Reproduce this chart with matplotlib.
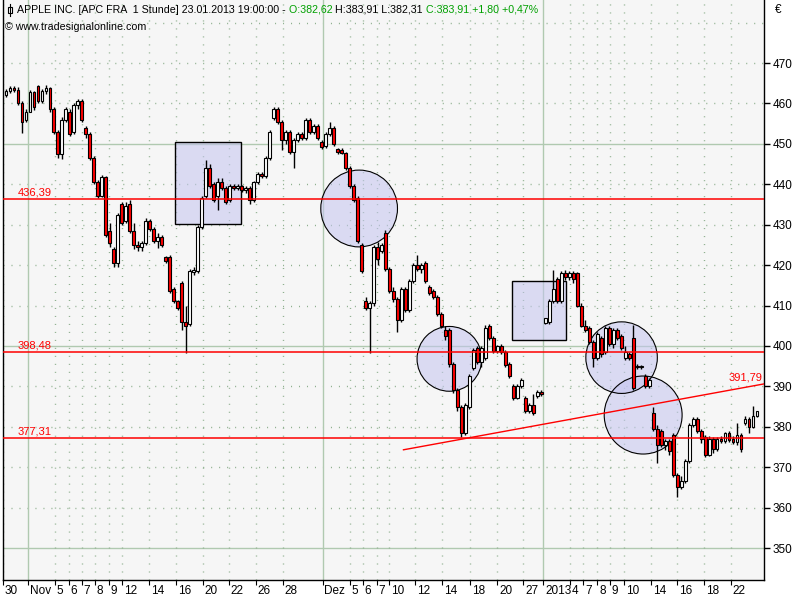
import matplotlib
matplotlib.use("Agg")
import matplotlib.pyplot as plt
import numpy as np
from matplotlib.patches import Rectangle, Ellipse
from matplotlib.lines import Line2D

plt.rcParams["font.family"] = ["Liberation Sans", "DejaVu Sans"]

# ---------------------------------------------------------------------------
# APC FRA, 1-hour candles
# ---------------------------------------------------------------------------
opens = [
    462.0, 463.0, 463.8, 463.2, 460.0, 456.0, 458.0, 462.8, 464.3, 460.5,
    463.0, 463.8, 458.5, 453.0, 447.5, 456.0, 458.0, 453.0, 459.5, 460.5,
    454.0, 452.5, 446.5, 440.5, 437.2, 441.8, 428.5, 424.0, 420.5, 435.0,
    431.0, 435.0, 428.5, 425.0, 424.5, 425.5, 431.0, 429.0, 426.0, 427.0,
    422.0, 422.0, 414.0, 411.0, 415.5, 406.0, 405.5, 418.2, 418.5, 429.5,
    437.0, 444.0, 440.0, 437.0, 440.5, 439.0, 436.0, 439.5, 439.0, 439.5,
    438.5, 439.0, 436.0, 440.5, 442.5, 442.0, 446.5, 456.5, 458.5, 455.5,
    451.0, 453.0, 448.0, 451.0, 452.5, 451.5, 456.0, 453.0, 454.5, 450.5,
    449.5, 452.5, 454.0, 448.8, 448.5, 447.8, 444.0, 439.5, 436.5, 425.0,
    411.0, 409.5, 410.5, 424.5, 423.5, 428.0, 419.0, 413.5, 411.5, 406.5,
    414.0, 409.0, 416.0, 420.0, 419.0, 420.5, 414.5, 413.5, 412.0, 408.0,
    404.0, 404.0, 395.5, 389.0, 385.0, 378.5, 385.0, 394.5, 399.5, 396.0,
    397.0, 405.0, 402.0, 398.8, 400.0, 398.5, 395.5, 390.0, 387.0, 390.0,
    387.0, 384.0, 385.5, 387.5, 388.5, 405.7, 406.0, 411.0, 416.5, 411.0,
    418.0, 417.0, 418.0, 418.0, 410.0, 405.0, 404.5, 401.0, 397.0, 402.0,
    398.5, 404.5, 400.5, 404.0, 402.5, 397.0, 398.0, 402.0, 395.0, 394.8,
    392.5, 390.0, 383.5, 379.5, 379.0, 375.5, 376.5, 378.0, 368.0, 365.0,
    366.5, 371.5, 380.5, 382.0, 379.0, 377.5, 373.0, 377.0, 374.5, 377.0,
    376.5, 378.5, 377.0, 376.3, 378.0, 381.0, 382.0, 380.0, 382.62,
]
highs = [
    463.5, 464.3, 464.3, 464.0, 460.5, 458.5, 463.3, 463.0, 464.6, 463.5,
    464.6, 464.0, 459.0, 453.5, 456.6, 459.0, 458.5, 460.0, 461.0, 461.0,
    454.5, 453.0, 447.0, 441.0, 442.3, 442.0, 430.5, 424.5, 433.0, 435.5,
    435.5, 436.0, 430.5, 426.0, 426.0, 431.6, 431.5, 429.5, 428.0, 427.5,
    422.3, 422.5, 414.6, 411.4, 416.0, 410.0, 419.0, 419.5, 430.0, 437.0,
    446.0, 445.0, 440.5, 441.5, 441.5, 439.5, 440.0, 440.0, 440.0, 439.8,
    439.5, 439.5, 440.8, 443.0, 443.0, 447.0, 453.5, 459.2, 459.0, 456.0,
    453.5, 453.5, 451.5, 453.0, 453.0, 456.5, 456.5, 455.0, 455.0, 451.0,
    453.0, 455.5, 454.5, 449.0, 449.0, 448.0, 444.5, 440.0, 437.0, 425.5,
    412.0, 411.0, 425.0, 425.8, 425.5, 428.7, 419.5, 414.5, 412.0, 414.5,
    414.5, 416.5, 420.5, 422.5, 420.5, 421.0, 415.0, 414.0, 412.5, 408.5,
    405.0, 404.5, 396.0, 389.5, 385.5, 386.0, 393.0, 399.5, 400.0, 400.0,
    405.2, 405.5, 402.5, 400.3, 400.5, 399.0, 396.0, 390.5, 390.5, 392.0,
    387.5, 386.0, 388.0, 389.0, 389.0, 407.0, 411.5, 418.8, 417.0, 418.5,
    418.8, 418.5, 418.5, 418.3, 410.5, 406.5, 405.0, 401.5, 403.5, 402.5,
    405.0, 405.0, 404.5, 404.5, 403.0, 400.0, 398.5, 405.2, 395.5, 395.3,
    393.0, 392.0, 384.8, 380.5, 379.5, 377.0, 377.0, 378.5, 368.5, 367.8,
    372.0, 381.0, 382.5, 382.4, 379.5, 378.0, 377.7, 377.5, 377.5, 377.6,
    378.7, 379.0, 377.8, 381.0, 378.5, 382.6, 382.3, 385.1, 383.91,
]
lows = [
    461.5, 462.5, 462.8, 459.5, 452.7, 455.5, 457.8, 458.4, 460.0, 460.0,
    462.3, 458.0, 452.5, 446.5, 446.3, 455.5, 452.0, 452.5, 458.5, 455.5,
    451.5, 446.0, 440.0, 436.6, 436.8, 427.0, 424.5, 419.5, 419.5, 430.0,
    430.5, 428.0, 424.0, 423.5, 423.5, 425.0, 428.5, 425.5, 424.2, 424.5,
    420.5, 413.0, 410.5, 408.9, 404.0, 398.3, 405.0, 417.5, 418.0, 429.0,
    436.5, 439.0, 435.5, 433.6, 438.5, 435.0, 435.5, 438.5, 438.5, 438.0,
    437.8, 435.0, 435.5, 440.0, 441.5, 441.5, 446.0, 456.0, 455.0, 448.5,
    450.0, 447.5, 444.0, 450.5, 451.0, 451.0, 452.5, 452.5, 451.0, 448.8,
    449.0, 452.0, 449.5, 447.5, 447.5, 443.5, 439.0, 435.5, 425.5, 418.0,
    408.9, 398.3, 410.0, 420.0, 423.0, 418.5, 413.0, 410.8, 403.4, 406.0,
    408.5, 408.5, 415.5, 418.5, 418.0, 415.5, 412.5, 411.5, 407.5, 404.5,
    401.5, 394.8, 388.4, 384.0, 377.5, 378.0, 384.5, 394.0, 395.5, 394.8,
    396.5, 401.5, 398.3, 398.3, 398.0, 394.8, 392.0, 386.5, 386.8, 389.5,
    383.3, 383.5, 382.8, 387.0, 387.5, 405.5, 405.5, 410.5, 410.5, 410.5,
    416.3, 416.3, 415.6, 409.6, 404.7, 403.4, 400.5, 394.8, 396.5, 397.3,
    398.0, 400.0, 399.5, 401.5, 399.0, 396.5, 396.5, 389.1, 394.3, 394.3,
    389.5, 389.5, 379.0, 371.0, 375.0, 374.3, 373.0, 367.5, 362.6, 364.5,
    366.0, 371.0, 380.0, 378.5, 376.0, 372.4, 372.8, 373.5, 374.0, 376.0,
    376.0, 376.2, 375.8, 375.5, 373.8, 380.5, 378.5, 379.8, 382.31,
]
closes = [
    463.0, 463.8, 463.2, 460.0, 455.5, 458.0, 462.8, 459.0, 460.5, 463.0,
    463.8, 458.5, 453.0, 447.5, 456.0, 458.5, 452.5, 459.5, 460.5, 456.0,
    452.5, 446.5, 440.5, 437.2, 441.8, 427.5, 425.5, 420.5, 432.5, 430.5,
    434.5, 428.5, 425.0, 424.5, 425.5, 431.0, 429.0, 426.0, 427.0, 425.0,
    421.0, 413.5, 411.0, 409.5, 406.0, 405.0, 418.5, 418.8, 429.5, 436.5,
    444.0, 439.5, 436.0, 440.5, 439.0, 435.5, 439.5, 439.0, 439.5, 438.5,
    439.0, 436.0, 440.5, 442.5, 442.0, 446.5, 453.0, 458.5, 455.5, 451.0,
    453.0, 448.0, 451.0, 452.5, 451.5, 456.0, 453.0, 454.5, 451.5, 449.2,
    452.5, 454.0, 450.0, 448.0, 447.8, 444.0, 439.5, 436.0, 426.0, 418.5,
    409.5, 410.5, 424.5, 421.5, 425.0, 419.0, 413.5, 411.5, 406.5, 414.0,
    409.0, 416.0, 420.0, 419.0, 420.0, 416.0, 413.0, 412.0, 408.0, 405.0,
    402.5, 395.5, 389.0, 385.0, 378.5, 385.5, 392.5, 399.0, 396.0, 399.5,
    404.5, 402.0, 398.8, 400.0, 398.5, 395.3, 392.5, 387.0, 390.0, 391.5,
    383.8, 385.5, 383.5, 388.5, 388.0, 406.8, 411.0, 414.0, 411.0, 418.0,
    417.0, 418.0, 416.5, 410.0, 405.0, 404.0, 401.0, 397.0, 403.0, 398.0,
    404.5, 400.5, 404.0, 402.0, 399.5, 398.5, 397.0, 389.5, 394.8, 395.0,
    390.0, 391.5, 379.5, 375.5, 375.5, 376.5, 374.0, 368.0, 365.0, 366.5,
    371.5, 380.5, 382.0, 379.0, 377.0, 373.0, 377.0, 374.5, 377.0, 376.5,
    378.5, 376.8, 376.3, 378.0, 374.5, 382.0, 380.0, 382.6, 383.91,
]

# session starts on the time axis (bar index) and their labels
tick_bars = [-0.75, 5.5, 12.25, 15.75, 19, 22.25, 25.75, 29, 35.75, 42.5,
             49.25, 55.75, 62.5, 69.25, 79.25, 86, 89.25, 92.75, 96, 102.5,
             109.25, 116.25, 123, 129.5, 134.5, 141.25, 144.5, 148, 151.25,
             154.75, 161.5, 168, 174.75, 181.5]
tick_labels = ["30", "Nov", "5", "6", "7", "8", "9", "12", "14", "16",
               "20", "22", "26", "28", "Dez", "5", "6", "7", "10", "12",
               "14", "18", "20", "27", "2013", "4", "7", "8", "9",
               "10", "14", "16", "18", "22"]
month_labels = ["Nov", "Dez", "2013"]

y_ticks = [350, 360, 370, 380, 390, 400, 410, 420, 430, 440, 450, 460, 470]
grid_levels = y_ticks + [480]
solid_levels = [350, 400, 450]

# drawn support / resistance levels
levels = [436.39, 398.48, 377.31]
level_labels = ["436,39", "398,48", "377,31"]
trend_bars = [99.5, 189.75]
trend_prices = [374.3, 390.6]
trend_label = "391,79"

# highlight boxes (bar from, bar to, price low, price high)
boxes = [(42.3, 58.9, 430.2, 450.4), (126.7, 140.2, 401.5, 416.1)]
# highlight circles (center bar, center price, radius in bars)
circles = [(88.4, 434.0, 9.6), (111.0, 396.8, 8.1),
           (154.1, 397.1, 8.95), (159.5, 382.9, 9.75)]

W, H = 800, 600
PX_PER_BAR = 4.0
PX_PER_EUR = 4.0417

fig = plt.figure(figsize=(W / 100, H / 100), dpi=100)
fig.patch.set_facecolor("white")
ax = fig.add_axes([3 / W, 20 / H, 761 / W, 580 / H])
ax.set_facecolor("#f6f6f6")

n = len(closes)
ax.set_xlim(-0.5, (764 - 5) / PX_PER_BAR)
ax.set_ylim(470 - 517 / PX_PER_EUR, 470 + 63 / PX_PER_EUR)

# --- grid ---
dot_col = "#8fb08f"
dots = (0, (0.75, 5.0))
for lv in grid_levels:
    if lv in solid_levels:
        ax.axhline(lv, color="#b0c9b0", lw=1.0, zorder=1)
    else:
        ax.axhline(lv, color=dot_col, lw=1.0, ls=dots, zorder=1)
for b, lab in zip(tick_bars, tick_labels):
    if lab in month_labels:
        ax.axvline(b, color="#b0c9b0", lw=1.0, zorder=1)
    else:
        ax.axvline(b, color=dot_col, lw=1.0, ls=dots, zorder=1)

# --- boxes and circles ---
for b0, b1, p0, p1 in boxes:
    ax.add_patch(Rectangle((b0, p0), b1 - b0, p1 - p0, facecolor="#c4c4f0",
                           alpha=0.55, edgecolor="none", zorder=2))
    ax.add_patch(Rectangle((b0, p0), b1 - b0, p1 - p0, facecolor="none",
                           edgecolor="black", lw=1.0, zorder=2.5))
for cb, cp, r in circles:
    w = 2 * r
    h = 2 * r * PX_PER_BAR / PX_PER_EUR
    ax.add_patch(Ellipse((cb, cp), w, h, facecolor="#c4c4f0", alpha=0.55,
                         edgecolor="none", zorder=2))
    ax.add_patch(Ellipse((cb, cp), w, h, facecolor="none",
                         edgecolor="black", lw=0.8, zorder=2.5))

# --- candles ---
x = np.arange(n)
o = np.array(opens)
hi = np.array(highs)
lo = np.array(lows)
c = np.array(closes)
up = c >= o
ax.vlines(x, lo, hi, color="black", lw=1.0, zorder=4)
ax.bar(x, np.abs(c - o), bottom=np.minimum(o, c), width=0.72,
       color=np.where(up, "white", "red"), edgecolor="black", linewidth=0.8,
       zorder=5)

# --- level lines ---
for lv, lab in zip(levels, level_labels):
    ax.axhline(lv, color="red", lw=1.1, zorder=6)
    ax.text(3.0, lv + 0.4, lab, color="red", fontsize=8, ha="left",
            va="bottom", zorder=7)
ax.plot(trend_bars, trend_prices, color="red", lw=1.0, zorder=6)
ax.text(trend_bars[1] - 0.3, trend_prices[1] + 0.3, trend_label, color="red",
        fontsize=8, ha="right", va="bottom", zorder=7)

# --- axes frame ---
for side in ["left", "bottom", "right"]:
    ax.spines[side].set_color("black")
    ax.spines[side].set_linewidth(1.0)
ax.spines["top"].set_visible(False)

ax.yaxis.tick_right()
ax.set_yticks(y_ticks)
ax.set_yticklabels([str(v) for v in y_ticks], fontsize=8.5)
ax.tick_params(axis="y", length=4, width=1.0, pad=2, colors="black")

ax.set_xticks(tick_bars)
ax.set_xticklabels([])
ax.tick_params(axis="x", length=3.5, width=0.8, direction="out")
xlab_tr = ax.get_xaxis_transform()
for b, lab in zip(tick_bars, tick_labels):
    ax.text(b + 0.45, -11 / 580, lab, transform=xlab_tr, fontsize=8.5,
            ha="left", va="center", clip_on=False)

# --- header texts ---
fig.text(775 / W, 1 - 10 / H, "€", fontsize=8.5, ha="left", va="center")
fig.text(5 / W, 1 - 27 / H, "© www.tradesignalonline.com", fontsize=7.7,
         ha="left", va="center")

# small candle icon in front of the title
fig.add_artist(Line2D([10 / W, 10 / W], [1 - 4 / H, 1 - 16 / H],
                      color="black", lw=0.8))
fig.add_artist(Rectangle((8 / W, 1 - 13 / H), 4 / W, 6 / H,
                         facecolor="white", edgecolor="black", lw=0.8))

title_parts = [
    ("APPLE INC. [APC FRA  1 Stunde] 23.01.2013 19:00:00 - ", "black"),
    ("O:382,62 ", "#00a000"),
    ("H:383,91 L:382,31 ", "black"),
    ("C:383,91 +1,80 +0,47%", "#00a000"),
]
renderer = fig.canvas.get_renderer()
xpos = 17
for txt, col in title_parts:
    t = fig.text(xpos / W, 1 - 10 / H, txt, fontsize=7.7, color=col,
                 ha="left", va="center")
    xpos += t.get_window_extent(renderer=renderer).width

fig.savefig("out.png", dpi=100)
